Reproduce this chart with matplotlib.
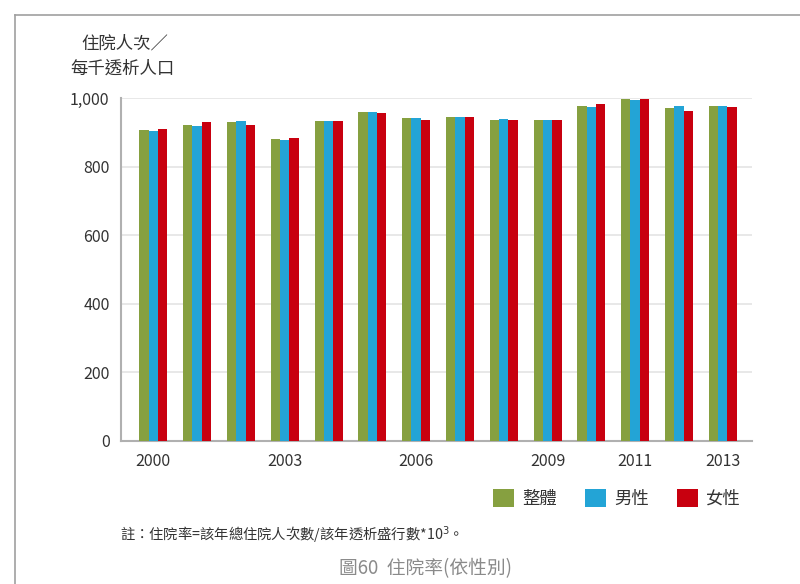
import matplotlib.pyplot as plt
import numpy as np
from matplotlib.patches import Patch
from matplotlib.lines import Line2D

plt.rcParams['font.family'] = ['Liberation Sans Narrow', 'Noto Sans CJK TC', 'DejaVu Sans']

years = [2000, 2001, 2002, 2003, 2004, 2005, 2006, 2007, 2008, 2009, 2010, 2011, 2012, 2013]
overall = [907, 922, 931, 881, 934, 960, 942, 945, 937, 937, 977, 998, 971, 977]
male = [904, 919, 934, 878, 934, 960, 942, 945, 939, 937, 974, 995, 977, 977]
female = [910, 931, 922, 884, 934, 957, 937, 945, 937, 937, 983, 998, 963, 974]
series_names = ['整體', '男性', '女性']
colors = ['#86a040', '#23a4d6', '#c8000f']
shown_years = [2000, 2003, 2006, 2009, 2011, 2013]

fig = plt.figure(figsize=(8, 5.84), dpi=100)
ax = fig.add_axes([0.1509, 0.2454, 0.7887, 0.5866])

x = np.arange(len(years))
w = 0.213
for i, vals in enumerate([overall, male, female]):
    ax.bar(x + (i - 1) * w, vals, width=w, color=colors[i], zorder=3)

ax.set_xlim(-0.744, 13.66)
ax.set_ylim(0, 1000)
ax.set_yticks(range(0, 1001, 200))
ax.set_yticklabels(['0', '200', '400', '600', '800', '1,000'])
ax.set_xticks([years.index(y) for y in shown_years])
ax.set_xticklabels([str(y) for y in shown_years])
ax.tick_params(length=0, labelsize=11.5, colors='#333333')
ax.tick_params(axis='y', pad=8)
ax.tick_params(axis='x', pad=9)
ax.grid(axis='y', color='#e4e4e4', linewidth=1.2, zorder=0)
for s in ['top', 'right']:
    ax.spines[s].set_visible(False)
for s in ['left', 'bottom']:
    ax.spines[s].set_color('#b0b0b0')
    ax.spines[s].set_linewidth(1.5)

fig.text(0.156, 0.926, '住院人次／', ha='center', va='center', fontsize=12.5,
         family=['Noto Sans CJK TC'], color='#333333')
fig.text(0.153, 0.883, '每千透析人口', ha='center', va='center', fontsize=12.5,
         family=['Noto Sans CJK TC'], color='#333333')

handles = [Patch(facecolor=c, edgecolor='none') for c in colors]
fig.legend(handles, series_names, loc='center', bbox_to_anchor=(0.771, 0.1464), ncol=3,
           frameon=False, handlelength=1.25, handleheight=1.25, handletextpad=0.45,
           columnspacing=1.6, prop={'family': 'Noto Sans CJK TC', 'size': 12.5},
           labelcolor='#333333')

fig.text(0.15, 0.084, '註：住院率=該年總住院人次數/該年透析盛行數*10$^{3}$。', ha='left', va='center',
         fontsize=10.3, family=['Noto Sans CJK TC', 'DejaVu Sans'], color='#333333')
fig.text(0.532, 0.027, '圖60  住院率(依性別)', ha='center', va='center', fontsize=13.5,
         family=['Noto Sans CJK TC'], color='#8a8a8a')

# page frame
fig.add_artist(Line2D([0.019, 1.0], [0.974, 0.974], color='#a0a0a0', linewidth=1.2))
fig.add_artist(Line2D([0.019, 0.019], [0.0, 0.974], color='#a0a0a0', linewidth=1.2))

fig.savefig('out.png', dpi=100)
